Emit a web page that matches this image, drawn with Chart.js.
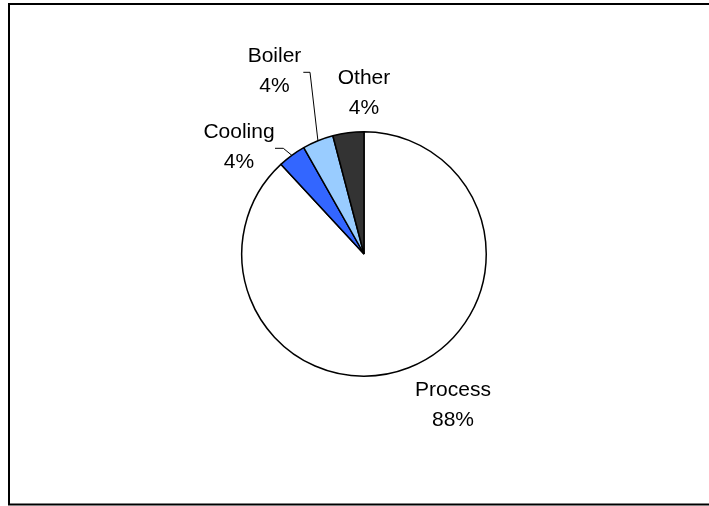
<!DOCTYPE html>
<html>
<head>
<meta charset="utf-8">
<script src="https://cdn.jsdelivr.net/npm/chart.js@4"></script>
<style>
  html, body { margin: 0; padding: 0; background: #fff; }
  #wrap { width: 709px; height: 506px; position: relative; }
</style>
</head>
<body>
<div id="wrap"><canvas id="energy_pie"></canvas></div>
<script>
const categories = ['Process', 'Cooling', 'Boiler', 'Other'];
const shares = [88.1, 3.7, 4.1, 4.1];
const share_labels = ['88%', '4%', '4%', '4%'];

const slice_colors = ['#ffffff', '#3366ff', '#99ccff', '#333333'];

// where each label block sits, relative to the pie centre (px)
const label_spots = [
  { dx: 89, dy: 149.5 },
  { dx: -125, dy: -108.2, elbow: [-80.7, -105.7], end: [-89, -105.7] },
  { dx: -89.5, dy: -184.3, elbow: [-54, -181.7], end: [-60.7, -181.7] },
  { dx: 0, dy: -162.3 }
];

const frame_plugin = {
  id: 'frame',
  beforeDraw(chart) {
    const ctx = chart.ctx;
    ctx.save();
    ctx.fillStyle = '#fff';
    ctx.fillRect(0, 0, chart.width, chart.height);
    ctx.strokeStyle = '#000';
    ctx.lineWidth = 2;
    ctx.beginPath();
    ctx.moveTo(720, 4);
    ctx.lineTo(9, 4);
    ctx.lineTo(9, 504.5);
    ctx.lineTo(720, 504.5);
    ctx.stroke();
    ctx.restore();
  }
};

const slice_labels = {
  id: 'sliceLabels',
  afterDatasetsDraw(chart) {
    const ctx = chart.ctx;
    const arcs = chart.getDatasetMeta(0).data;
    ctx.save();
    ctx.font = '21px "Liberation Sans", Arial, sans-serif';
    ctx.fillStyle = '#000';
    ctx.textAlign = 'center';
    ctx.textBaseline = 'alphabetic';
    arcs.forEach((arc, i) => {
      const spot = label_spots[i];
      const cx = arc.x, cy = arc.y;
      const x = cx + spot.dx, y = cy + spot.dy;
      ctx.fillText(categories[i], x, y - 15 + 7.5);
      ctx.fillText(share_labels[i], x, y + 15 + 7.5);
      if (spot.elbow) {
        const mid = (arc.startAngle + arc.endAngle) / 2;
        const r = arc.outerRadius;
        ctx.strokeStyle = '#000';
        ctx.lineWidth = 1;
        ctx.beginPath();
        ctx.moveTo(cx + Math.cos(mid) * r, cy + Math.sin(mid) * r);
        ctx.lineTo(cx + spot.elbow[0], cy + spot.elbow[1]);
        ctx.lineTo(cx + spot.end[0], cy + spot.end[1]);
        ctx.stroke();
      }
    });
    ctx.restore();
  }
};

const energy_data = {
  labels: categories,
  datasets: [{
    data: shares,
    backgroundColor: slice_colors,
    borderColor: '#000',
    borderWidth: 1.5,
    borderAlign: 'center'
  }]
};

const energy_config = {
  type: 'pie',
  data: energy_data,
  options: {
    responsive: false,
    animation: false,
    events: [],
    layout: { padding: { left: 200, right: 181, top: 131, bottom: 129 } },
    plugins: {
      legend: { display: false },
      tooltip: { enabled: false }
    }
  },
  plugins: [frame_plugin, slice_labels]
};

const cv = document.getElementById('energy_pie');
cv.width = 709;
cv.height = 506;
const energy_pie = new Chart(cv, energy_config);
</script>
</body>
</html>
